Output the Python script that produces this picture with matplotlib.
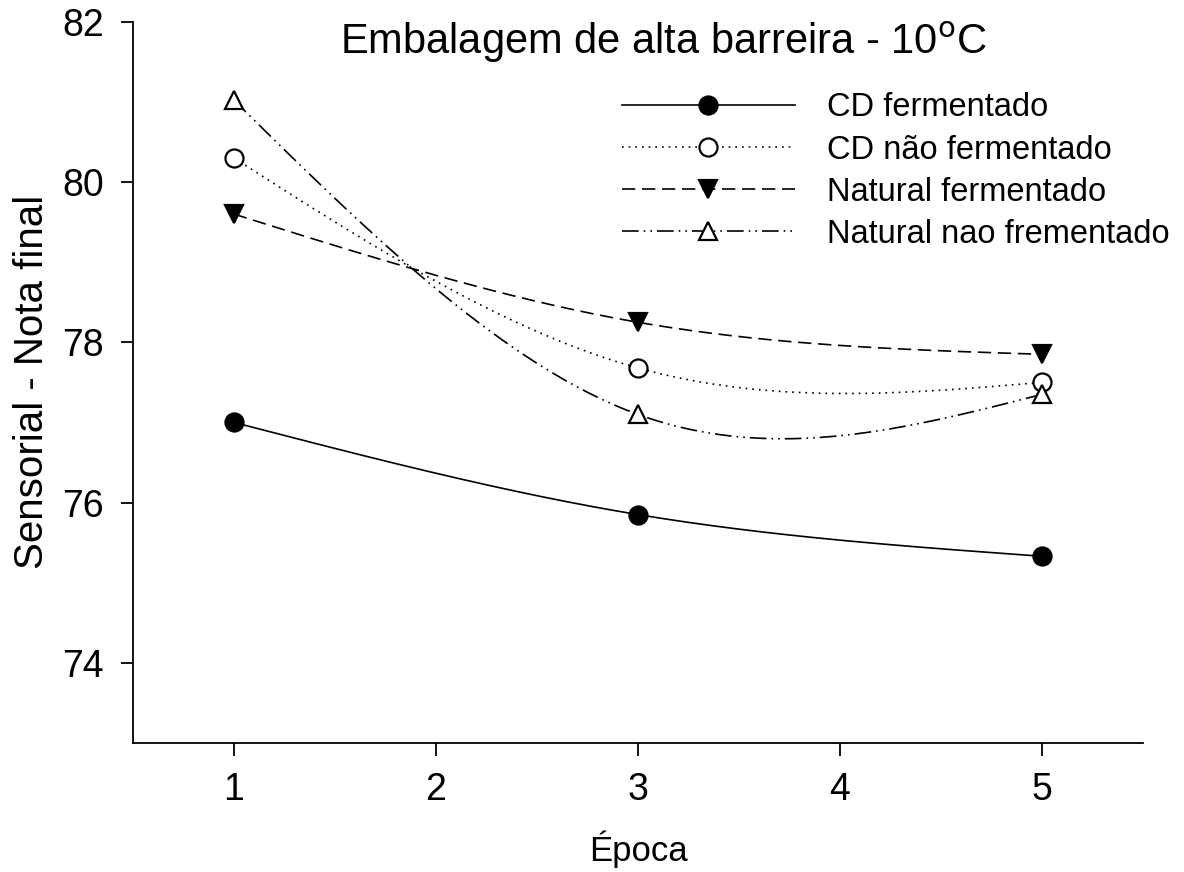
import numpy as np
import matplotlib
matplotlib.use("Agg")
from matplotlib import pyplot as plt

plt.rcParams['font.family'] = ['Liberation Sans', 'DejaVu Sans']

epoca = [1, 3, 5]
cd_ferm = [77.0, 75.85, 75.33]
cd_nao_ferm = [80.3, 77.68, 77.5]
nat_ferm = [79.6, 78.25, 77.85]
nat_nao_ferm = [81.02, 77.1, 77.35]

labels = ["CD fermentado", "CD não fermentado",
          "Natural fermentado", "Natural nao frementado"]


def natural_spline(x, y, n=200):
    # cubic spline com segunda derivada nula nas pontas
    x = np.asarray(x, float)
    y = np.asarray(y, float)
    k = len(x)
    h = np.diff(x)
    A = np.zeros((k, k))
    r = np.zeros(k)
    A[0, 0] = A[-1, -1] = 1.0
    for i in range(1, k - 1):
        A[i, i - 1] = h[i - 1]
        A[i, i] = 2 * (h[i - 1] + h[i])
        A[i, i + 1] = h[i]
        r[i] = 6 * ((y[i + 1] - y[i]) / h[i] - (y[i] - y[i - 1]) / h[i - 1])
    M = np.linalg.solve(A, r)
    xs = np.linspace(x[0], x[-1], n)
    idx = np.clip(np.searchsorted(x, xs) - 1, 0, k - 2)
    x0, x1 = x[idx], x[idx + 1]
    hh = x1 - x0
    ys = (M[idx] * (x1 - xs) ** 3 / (6 * hh) + M[idx + 1] * (xs - x0) ** 3 / (6 * hh)
          + (y[idx] / hh - M[idx] * hh / 6) * (x1 - xs)
          + (y[idx + 1] / hh - M[idx + 1] * hh / 6) * (xs - x0))
    return xs, ys


fig = plt.figure(figsize=(11.84, 8.72), dpi=100)
ax = fig.add_axes([0.1123, 0.148, 0.853, 0.827])

styles = [
    dict(ls='-', marker='o', mfc='black'),
    dict(ls=(0, (1, 3)), marker='o', mfc='white'),
    dict(ls=(0, (8, 4)), marker='v', mfc='black'),
    dict(ls=(0, (10, 3, 1, 3, 1, 3)), marker='^', mfc='white'),
]
series = [cd_ferm, cd_nao_ferm, nat_ferm, nat_nao_ferm]

for y, lab, st in zip(series, labels, styles):
    xs, ys = natural_spline(epoca, y)
    ax.plot(xs, ys, color='black', lw=1.2, ls=st['ls'])
    ax.plot(epoca, y, ls='none', marker=st['marker'], ms=13,
            mfc=st['mfc'], mec='black', mew=1.6, zorder=3)
    # entrada da legenda com linha e marcador
    ax.plot([], [], color='black', lw=1.2, ls=st['ls'], marker=st['marker'],
            ms=13, mfc=st['mfc'], mec='black', mew=1.6, label=lab)

ax.set_xlim(0.5, 5.5)
ax.set_ylim(73, 82)
ax.set_xticks([1, 2, 3, 4, 5])
ax.set_yticks([74, 76, 78, 80, 82])
ax.spines['top'].set_visible(False)
ax.spines['right'].set_visible(False)
for s in ('left', 'bottom'):
    ax.spines[s].set_linewidth(1.3)
ax.tick_params(direction='out', length=9, width=1.3, labelsize=27, pad=12)

ax.set_xlabel("Época", fontsize=25, labelpad=16)
ax.set_ylabel("Sensorial - Nota final", fontsize=29, labelpad=8)

ax.text(0.525, 0.972, "Embalagem de alta barreira - 10$^{\\rm o}$C",
        transform=ax.transAxes, ha='center', va='center', fontsize=30)

ax.legend(loc='upper left', bbox_to_anchor=(0.484, 0.902), frameon=False,
          fontsize=23.5, handlelength=5.3, handletextpad=1.0, labelspacing=0.34,
          borderaxespad=0, borderpad=0)

fig.savefig("out.png", dpi=100)
